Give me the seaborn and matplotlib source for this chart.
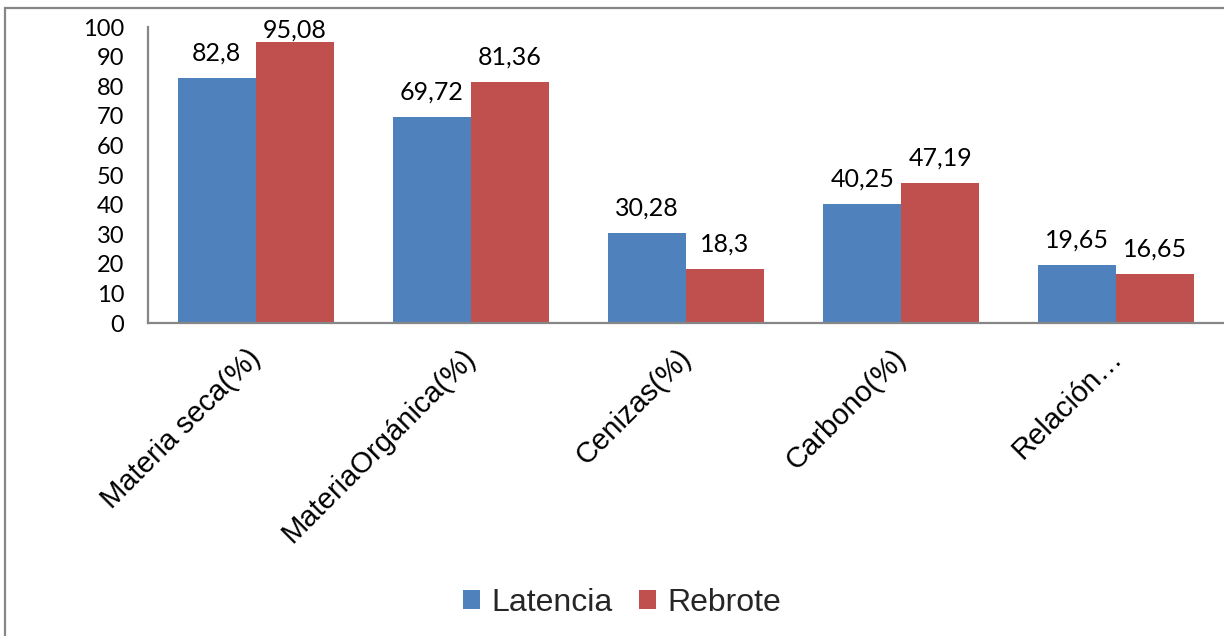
import matplotlib
matplotlib.use("Agg")
import matplotlib.pyplot as plt
import matplotlib.patches as mpatches
from matplotlib.transforms import ScaledTranslation
import seaborn as sns
import pandas as pd

categories = ["Materia seca(%)", "MateriaOrgánica(%)", "Cenizas(%)", "Carbono(%)", "Relación…"]
latencia = [82.8, 69.72, 30.28, 40.25, 19.65]
rebrote = [95.08, 81.36, 18.3, 47.19, 16.65]
series = ["Latencia", "Rebrote"]
y_ticks = list(range(0, 101, 10))

colors = {"Latencia": "#4F81BD", "Rebrote": "#C0504D"}
axis_gray = "#868686"

df = pd.DataFrame({
    "categoria": categories * 2,
    "valor": latencia + rebrote,
    "serie": [series[0]] * len(categories) + [series[1]] * len(categories),
})

sns.set_theme(style="white")
plt.rcParams["font.family"] = ["Liberation Sans", "DejaVu Sans"]

W, H = 1224, 636
fig = plt.figure(figsize=(W / 100, H / 100), dpi=100)
ax = fig.add_axes([148 / W, 1 - 323 / H, (W - 148) / W, (323 - 27) / H])

sns.barplot(data=df, x="categoria", y="valor", hue="serie", order=categories,
            hue_order=series, palette=colors, saturation=1, width=0.724,
            gap=0, edgecolor="none", legend=False, ax=ax)

ax.set_ylim(0, 100)
ax.set_yticks(y_ticks)
ax.set_xlabel("")
ax.set_ylabel("")

for side in ("top", "right"):
    ax.spines[side].set_visible(False)
for side in ("left", "bottom"):
    ax.spines[side].set_color(axis_gray)
    ax.spines[side].set_linewidth(1.6)

ax.tick_params(axis="y", length=0, pad=17, labelsize=17)
ax.tick_params(axis="x", length=0, pad=22, labelsize=21)
for lab in ax.get_yticklabels():
    lab.set_fontfamily(["Lato", "DejaVu Sans"])
    lab.set_color("black")

for lab in ax.get_xticklabels():
    lab.set_rotation(45)
    lab.set_ha("right")
    lab.set_va("center")
    lab.set_rotation_mode("anchor")
    lab.set_color("black")
    lab.set_transform(lab.get_transform() + ScaledTranslation(0.01, 0, fig.dpi_scale_trans))

# value labels above each bar, kept inside the plot area
px_per_unit = (323 - 27) / 100
label_gap = 25 / px_per_unit
cap = 99.0
for container in ax.containers:
    for rect in container:
        v = rect.get_height()
        xc = rect.get_x() + rect.get_width() / 2
        txt = f"{v:g}".replace(".", ",")
        ax.text(xc, min(v + label_gap, cap), txt, ha="center", va="center",
                fontsize=18, family=["Lato", "DejaVu Sans"], color="black",
                clip_on=False)

handles = [mpatches.Patch(facecolor=colors[s], edgecolor="none", label=s) for s in series]
fig.legend(handles=handles, loc="center", bbox_to_anchor=(622 / W, 1 - 603 / H),
           ncol=2, frameon=False, fontsize=23, handlelength=0.52, handleheight=0.52,
           handletextpad=0.35, columnspacing=0.85)

# outer chart frame
fig.patches.append(mpatches.Rectangle((5 / W, -0.5), 2.0, (1 - 8 / H) + 0.5,
                                      transform=fig.transFigure, fill=False,
                                      edgecolor=axis_gray, linewidth=1.6))

fig.savefig("out.png", dpi=100, facecolor="white")
